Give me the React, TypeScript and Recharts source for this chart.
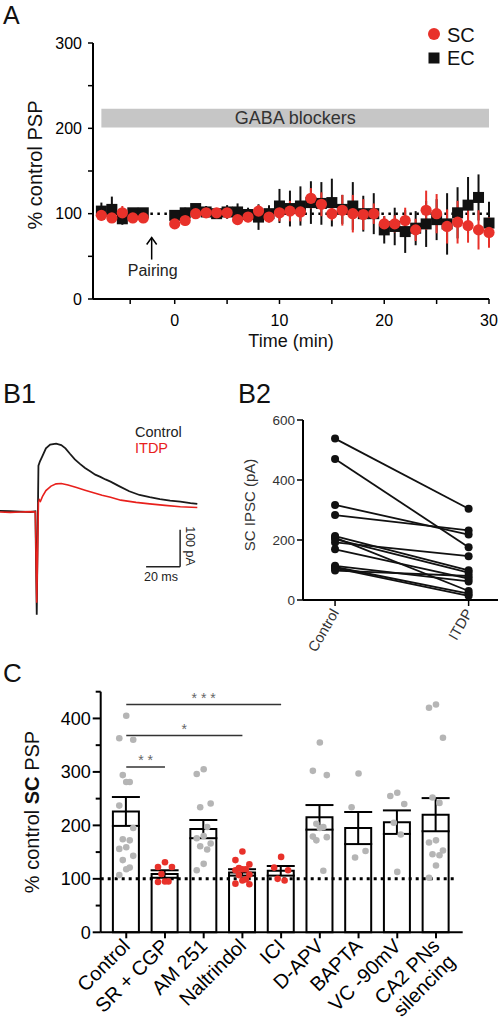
import React from "react";
import {
  ComposedChart,
  LineChart,
  Line,
  Scatter,
  Bar,
  XAxis,
  YAxis,
  ErrorBar,
  ReferenceLine,
  ReferenceArea,
  ReferenceDot,
} from "recharts";

const FONT = '"Liberation Sans", Arial, sans-serif';
const RED = "#e8312a";
const GREY = "#b5b5b5";
const INK = "#000";

// ---------- A: time course (% control PSP)
const timeMin = [-7, -6, -5, -4, -3, 0, 1, 2, 3, 4, 5, 6, 7, 8, 9, 10, 11, 12, 13, 14, 15, 16, 17, 18, 19, 20, 21, 22, 23, 24, 25, 26, 27, 28, 29, 30];
const scMean = [98, 95, 101, 95, 95, 88, 92, 100, 101, 101, 101, 93, 96, 103, 96, 101, 103, 102, 118, 111, 100, 104, 100, 99, 100, 88, 88, 92, 81, 104, 100, 85, 90, 86, 81, 78];
const scSem = [6, 5, 8, 6, 6, 5, 6, 5, 5, 4, 5, 5, 6, 7, 6, 10, 12, 11, 12, 14, 8, 18, 22, 18, 12, 9, 10, 15, 13, 23, 23, 20, 25, 20, 23, 18];
const ecMean = [103, 105, 94, 101, 101, 98, 101, 106, 102, 100, 102, 102, 99, 96, 100, 109, 106, 109, 113, 112, 113, 105, 109, 100, 100, 81, 85, 79, 83, 88, 93, 88, 101, 110, 119, 89];
const ecSem = [10, 15, 7, 5, 5, 6, 6, 5, 7, 6, 8, 10, 8, 15, 10, 20, 21, 23, 25, 25, 28, 17, 28, 21, 24, 16, 22, 25, 20, 27, 24, 36, 30, 33, 27, 25];
const timeTicks = [-4.25, 0, 5, 10, 15, 20, 25, 30];
const timeLabels = [0, 10, 20, 30];
const gabaBand = [201, 223];
const pairingTime = -2.2;

// ---------- B1: example traces (ms, pA)
const controlT = [0, 6, 12, 18, 20.8, 21.6, 22.6, 23.5, 25, 27, 29.5, 33, 36, 38.5, 41, 44, 47, 50, 53, 56, 59, 62, 65, 70, 76, 82, 88, 94, 100, 106, 112, 116];
const controlPA = [3, 2, 1, 0, 2, -278, 125, 137, 152, 172, 182, 185, 181, 172, 158, 142, 130, 119, 110, 101, 95, 88, 82, 70, 56, 46, 40, 35, 31, 28, 24, 22];
const itdpT = [0, 6, 12, 18, 20.8, 21.6, 22.6, 23.1, 23.8, 25, 27, 30, 33, 36, 40, 45, 50, 55, 60, 65, 71, 80, 88, 97, 106, 116];
const itdpPA = [0, -1, 0, 1, 0, -245, 25, 33, 29, 42, 58, 70, 76, 77, 73, 66, 59, 52, 45, 40, 32, 26, 22, 18, 14, 12];
const scaleBarMs = 20;
const scaleBarPA = 100;
const scaleBarEndT = 105.9;
const scaleBarBottomPA = -148;

// ---------- B2: paired SC IPSC amplitudes (pA)
const b2Conditions = ["Control", "ITDP"];
const ipscControl = [538, 470, 317, 283, 213, 208, 203, 192, 169, 114, 110, 106, 98];
const ipscItdp = [304, 176, 218, 232, 99, 30, 91, 146, 71, 62, 21, 14, 80];

// ---------- C: % control SC PSP per condition
const cLabels = ["Control", "SR + CGP", "AM 251", "Naltrindol", "ICI", "D-APV", "BAPTA", "VC -90mV", "CA2 PNs\nsilencing"];
const cMean = [226, 109, 193, 112, 115, 215, 195, 206, 220];
const cSem = [27, 7, 17, 6, 9, 23, 30, 22, 31];
const cDots = [
  [405, 363, 360, 294, 281, 281, 237, 195, 174, 172, 159, 156, 143, 135, 121, 118, 107],
  [131, 122, 122, 109, 95, 94, 95],
  [305, 296, 241, 234, 197, 180, 176, 166, 161, 155, 128, 116],
  [151, 135, 127, 120, 118, 118, 116, 108, 107, 99, 97, 91, 90],
  [141, 121, 116, 100, 97],
  [355, 302, 294, 203, 197, 195, 179, 178, 172, 115],
  [297, 234, 152, 140],
  [261, 255, 240, 205, 183, 113],
  [426, 420, 364, 252, 242, 172, 168, 153, 146, 144, 125, 102],
];
const cRedGroups = [1, 3, 4];
const sigTo = [1, 3, 4];
const sigLevel = [309, 368, 426];
const sigText = ["* *", "*", "* * *"];

const scRows = timeMin.map((t, i) => ({ t, v: scMean[i], err: scSem[i] }));
const ecRows = timeMin.map((t, i) => ({ t, v: ecMean[i], err: ecSem[i] }));
const controlRows = controlT.map((t, i) => ({ t, pA: controlPA[i] }));
const itdpRows = itdpT.map((t, i) => ({ t, pA: itdpPA[i] }));
const b2Rows = b2Conditions.map((_, i) => {
  const row: Record<string, number> = { x: i };
  ipscControl.forEach((v, k) => {
    row["p" + k] = i === 0 ? v : ipscItdp[k];
  });
  return row;
});
const cRows = cLabels.map((_, i) => ({ x: i, mean: cMean[i], sem: cSem[i] }));
const jitter = [0, -0.18, 0.18, -0.09, 0.09];
const dotRows = (red: boolean) =>
  cDots.flatMap((vals, i) =>
    cRedGroups.includes(i) !== red
      ? []
      : [...vals].sort((a, b) => b - a).map((y, j) => ({ x: i + jitter[j % jitter.length], y }))
  );

const axisStyle = { stroke: INK, strokeWidth: 2 };
const tickLineStyle = { stroke: INK, strokeWidth: 1.5 };

const RedCircle = (p: any) => <circle cx={p.cx} cy={p.cy} r={5.6} fill={RED} />;
const BlackSquare = (p: any) => <rect x={p.cx - 5.5} y={p.cy - 5.5} width={11} height={11} fill="#111" />;
const GreyDot = (p: any) => <circle cx={p.cx} cy={p.cy} r={3.3} fill={GREY} />;
const RedDot = (p: any) => <circle cx={p.cx} cy={p.cy} r={3.3} fill={RED} />;

const PairingArrow = (p: any) => (
  <g>
    <line x1={p.cx} y1={p.cy} x2={p.cx} y2={p.cy + 22} stroke={INK} strokeWidth={1.5} />
    <polyline points={`${p.cx - 5},${p.cy + 7} ${p.cx},${p.cy} ${p.cx + 5},${p.cy + 7}`} fill="none" stroke={INK} strokeWidth={1.5} />
    <text x={p.cx + 1} y={p.cy + 38} textAnchor="middle" fontSize={16} fill="#222">
      Pairing
    </text>
  </g>
);

const B2Tick = (p: any) => (
  <g transform={`translate(${p.x},${p.y}) rotate(-60)`}>
    <text x={0} y={0} dy="0.35em" textAnchor="end" fontSize={14.5} fill="#333">
      {b2Conditions[p.payload.value]}
    </text>
  </g>
);

const CXTick = (p: any) => {
  const lines = cLabels[p.payload.value].split("\n");
  return (
    <g transform={`translate(${p.x},${p.y}) rotate(-45)`}>
      {lines.map((s, k) => (
        <text key={k} x={0} y={0} dy={`${0.35 + k * 1.1}em`} textAnchor="end" fontSize={20} fill={INK}>
          {s}
        </text>
      ))}
    </g>
  );
};

const CYTick = (p: any) => {
  const v = p.payload.value;
  const major = v % 100 === 0;
  const ax = p.x + 11;
  return (
    <g>
      <line x1={ax - (major ? 8 : 5)} x2={ax} y1={p.y} y2={p.y} stroke={INK} strokeWidth={2} />
      {major && (
        <text x={ax - 10} y={p.y} dy="0.35em" textAnchor="end" fontSize={18} fill={INK}>
          {v}
        </text>
      )}
    </g>
  );
};

function PanelA() {
  return (
    <ComposedChart width={498} height={355} margin={{ top: 43, right: 9, bottom: 6, left: 53 }}>
      <XAxis
        type="number"
        dataKey="t"
        domain={[-7.8, 30]}
        ticks={timeTicks}
        tickFormatter={(v) => (timeLabels.includes(v) ? String(v) : "")}
        axisLine={axisStyle}
        tickLine={tickLineStyle}
        tickSize={5}
        tickMargin={11}
        height={50}
        tick={{ fill: INK, fontSize: 16 }}
      />
      <YAxis
        type="number"
        domain={[0, 300]}
        ticks={[0, 50, 100, 150, 200, 250, 300]}
        tickFormatter={(v) => (v % 100 === 0 ? String(v) : "")}
        axisLine={axisStyle}
        tickLine={tickLineStyle}
        tickSize={5}
        tickMargin={6}
        width={40}
        tick={{ fill: INK, fontSize: 16 }}
      />
      <ReferenceArea
        x1={-7}
        x2={30}
        y1={gabaBand[0]}
        y2={gabaBand[1]}
        fill="#c6c6c6"
        fillOpacity={1}
        stroke="none"
        label={{ value: "GABA blockers", position: "center", fill: "#333", fontSize: 18 }}
      />
      <ReferenceLine
        segment={[{ x: -7, y: 100 }, { x: 30, y: 100 }]}
        stroke={INK}
        strokeWidth={2.5}
        strokeDasharray="2.5 4.5"
      />
      <ReferenceDot x={pairingTime} y={72} shape={PairingArrow} />
      <Scatter data={ecRows} dataKey="v" shape={BlackSquare} isAnimationActive={false}>
        <ErrorBar dataKey="err" direction="y" width={0} stroke="#111" strokeWidth={2} />
      </Scatter>
      <Scatter data={scRows} dataKey="v" shape={RedCircle} isAnimationActive={false}>
        <ErrorBar dataKey="err" direction="y" width={0} stroke={RED} strokeWidth={2} />
      </Scatter>
    </ComposedChart>
  );
}

function PanelB1() {
  return (
    <LineChart width={199} height={185} margin={{ top: 0, right: 0, bottom: 0, left: 0 }}>
      <XAxis type="number" dataKey="t" domain={[0, 117]} hide />
      <YAxis type="number" domain={[-300, 200]} hide />
      <Line data={controlRows} dataKey="pA" stroke="#1a1a1a" strokeWidth={1.8} dot={false} isAnimationActive={false} />
      <Line data={itdpRows} dataKey="pA" stroke="#e8201c" strokeWidth={1.6} dot={false} isAnimationActive={false} />
      <ReferenceLine
        segment={[
          { x: scaleBarEndT, y: scaleBarBottomPA },
          { x: scaleBarEndT, y: scaleBarBottomPA + scaleBarPA },
        ]}
        stroke="#222"
        strokeWidth={1.5}
      />
      <ReferenceLine
        segment={[
          { x: scaleBarEndT - scaleBarMs, y: scaleBarBottomPA },
          { x: scaleBarEndT, y: scaleBarBottomPA },
        ]}
        stroke="#222"
        strokeWidth={1.5}
      />
    </LineChart>
  );
}

function PanelB2() {
  return (
    <LineChart data={b2Rows} width={278} height={260} margin={{ top: 10, right: 0, bottom: 0, left: 40 }}>
      <XAxis
        type="number"
        dataKey="x"
        domain={[-0.24, 1.22]}
        ticks={[0, 1]}
        axisLine={axisStyle}
        tickLine={tickLineStyle}
        tickSize={6}
        tickMargin={4}
        height={70}
        tick={B2Tick}
      />
      <YAxis
        type="number"
        domain={[0, 600]}
        ticks={[0, 200, 400, 600]}
        axisLine={axisStyle}
        tickLine={tickLineStyle}
        tickSize={6}
        tickMargin={2}
        width={43}
        tick={{ fill: "#333", fontSize: 13.5 }}
      />
      {ipscControl.map((_, k) => (
        <Line
          key={k}
          dataKey={"p" + k}
          stroke="#111"
          strokeWidth={1.8}
          dot={{ r: 4, fill: "#111", stroke: "#111", strokeWidth: 0 }}
          isAnimationActive={false}
        />
      ))}
    </LineChart>
  );
}

function PanelC() {
  return (
    <ComposedChart data={cRows} width={498} height={340} margin={{ top: 11.7, right: 35.3, bottom: 0, left: 40 }}>
      <XAxis
        type="number"
        dataKey="x"
        domain={[-0.66, 8.69]}
        ticks={cLabels.map((_, i) => i)}
        axisLine={axisStyle}
        tickLine={{ stroke: INK, strokeWidth: 2 }}
        tickSize={6}
        tickMargin={4}
        height={87.7}
        tick={CXTick}
      />
      <XAxis xAxisId="dots" type="number" dataKey="x" domain={[-0.66, 8.69]} hide />
      <YAxis
        type="number"
        domain={[0, 450]}
        ticks={[0, 50, 100, 150, 200, 250, 300, 350, 400, 450]}
        axisLine={axisStyle}
        tickLine={false}
        tickSize={8}
        tickMargin={3}
        width={60.7}
        tick={CYTick}
      />
      <Scatter xAxisId="dots" data={dotRows(false)} dataKey="y" shape={GreyDot} isAnimationActive={false} />
      <Scatter xAxisId="dots" data={dotRows(true)} dataKey="y" shape={RedDot} isAnimationActive={false} />
      <Bar dataKey="mean" barSize={26} fill="none" stroke={INK} strokeWidth={2} isAnimationActive={false}>
        <ErrorBar dataKey="sem" direction="y" width={14} stroke={INK} strokeWidth={2} />
      </Bar>
      <ReferenceLine
        segment={[{ x: -0.66, y: 100 }, { x: 8.54, y: 100 }]}
        stroke={INK}
        strokeWidth={3}
        strokeDasharray="3 4"
      />
      {sigTo.map((to, i) => (
        <ReferenceLine
          key={i}
          segment={[{ x: 0, y: sigLevel[i] }, { x: to, y: sigLevel[i] }]}
          stroke="#333"
          strokeWidth={1.5}
          label={{ value: sigText[i], position: "top", fill: "#666", fontSize: 14, offset: 2 }}
        />
      ))}
    </ComposedChart>
  );
}

export default function App() {
  const abs = (left: number, top: number): React.CSSProperties => ({ position: "absolute", left, top });
  return (
    <div style={{ position: "absolute", left: 0, top: 0, width: 498, height: 1020, fontFamily: FONT, background: "#fff" }}>
      <div style={abs(0, 0)}>
        <PanelA />
      </div>
      <div style={abs(0, 438.3)}>
        <PanelB1 />
      </div>
      <div style={abs(220, 410)}>
        <PanelB2 />
      </div>
      <div style={abs(0, 680)}>
        <PanelC />
      </div>
      <svg width={498} height={1020} style={{ position: "absolute", left: 0, top: 0, pointerEvents: "none" }}>
        <text x={3} y={23.5} fontSize={25} fill="#111">A</text>
        <circle cx={434} cy={34} r={6} fill={RED} />
        <text x={447} y={41.5} fontSize={20} fill="#111">SC</text>
        <rect x={428.5} y={52.5} width={11} height={11} fill="#111" />
        <text x={447} y={65} fontSize={20} fill="#111">EC</text>
        <text transform="translate(35,165) rotate(-90)" textAnchor="middle" dy="0.35em" fontSize={20} fill="#111">
          % control PSP
        </text>
        <text x={291} y={347} textAnchor="middle" fontSize={18} fill="#111">Time (min)</text>

        <text x={3} y={403} fontSize={27} fill="#111">B1</text>
        <text x={135} y={437} fontSize={14.5} fill="#222">Control</text>
        <text x={135} y={453} fontSize={14.5} fill="#e8201c">ITDP</text>
        <text x={161} y={581} textAnchor="middle" fontSize={12.5} fill="#222">20 ms</text>
        <text transform="translate(190,546) rotate(90)" textAnchor="middle" dy="0.35em" fontSize={12.5} fill="#222">
          100 pA
        </text>

        <text x={238} y={403} fontSize={27} fill="#111">B2</text>
        <text transform="translate(250,505) rotate(-90)" textAnchor="middle" dy="0.35em" fontSize={15} fill="#333">
          SC IPSC (pA)
        </text>

        <text x={3} y={682} fontSize={26} fill="#111">C</text>
        <text transform="translate(32,812) rotate(-90)" textAnchor="middle" dy="0.35em" fontSize={20} fill="#111">
          % control <tspan fontWeight="bold">SC</tspan> PSP
        </text>
      </svg>
    </div>
  );
}
